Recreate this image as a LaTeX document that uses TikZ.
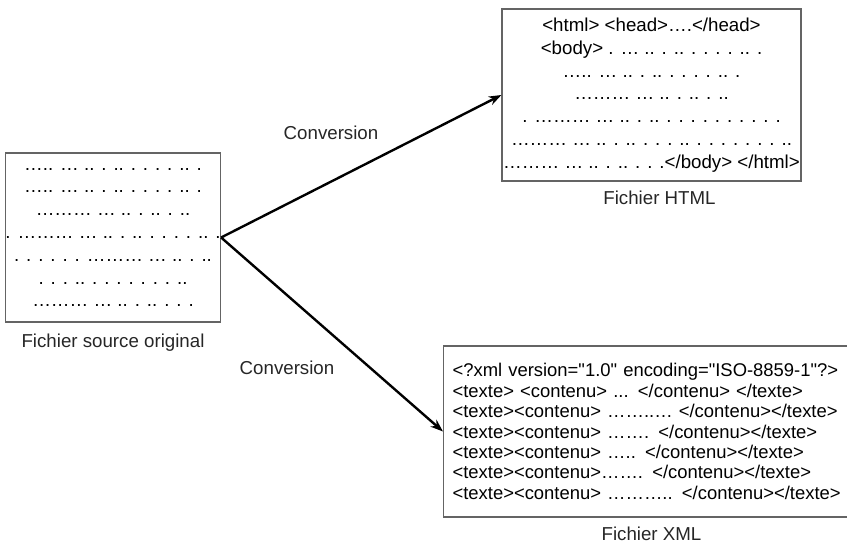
\documentclass[tikz,border=0pt]{standalone}
\usepackage{fontspec}
\setmainfont{Liberation Sans}
\usepackage{tikz}
\usetikzlibrary{arrows.meta,positioning}
\definecolor{boxgray}{RGB}{100,100,100}

\tikzset{
  filebox/.style={draw=boxgray,line width=0.8pt,inner sep=0pt,align=center,
    font=\fontsize{13.3}{16.2}\selectfont},
  caption/.style={font=\fontsize{13.3}{16}\selectfont,text=black!85},
  conv/.style={line width=1.7pt,-{Stealth[length=9pt,width=6.5pt]}}
}
\newcommand{\qq}{\textquotedbl}

\begin{document}
\begin{tikzpicture}[x=0.025cm,y=-0.025cm]
\useasboundingbox(0,0)rectangle(847,547);
%fichiers
\node[filebox,minimum width=5.05cm,minimum height=4.225cm](src)at(113,237.5){%
….. … .. . .. . . . . .. .\\
….. … .. . .. . . . . .. .\\
……… … .. . .. . ..\\
. ……… … .. . .. . . . . .. .\\
. . . . . . ……… … .. . ..\\
. . . .. . . . . . . . ..\\
……… … .. . .. . . .};
\node[filebox,minimum width=7.475cm,minimum height=4.3cm](html)at(651.5,95){%
<html> <head>….</head>\\
<body> . … .. . .. . . . . .. .\\
….. … .. . .. . . . . .. .\\
……… … .. . .. . ..\\
. ……… … .. . .. . . . . . . . . . .\\
……… … .. . .. . . . .. . . . . . . . ..\\
……… … .. . .. . . .</body> </html>};
\node[filebox,align=left,text width=300pt,inner xsep=6.4pt,minimum height=121.6pt,
  anchor=west,font=\fontsize{13.1}{14.5}\selectfont](xml)at(443,431.5){%
<?xml version=\qq1.0\qq{} encoding=\qq ISO-8859-1\qq?>\\
<texte> <contenu> ... </contenu> </texte>\\
<texte><contenu> ……..… </contenu></texte>\\
<texte><contenu> ……. </contenu></texte>\\
<texte><contenu> ….. </contenu></texte>\\
<texte><contenu>……. </contenu></texte>\\
<texte><contenu> ……….. </contenu></texte>};
%noms
\node[caption,below=0.15cm of src](srcname){Fichier source original};
\node[caption,below=0.12cm of html,xshift=0.2cm](htmlname){Fichier HTML};
\node[caption,below=0.12cm of xml,xshift=-0.3cm](xmlname){Fichier XML};
%conversions
\draw[conv](src.east)--(html.west);
\draw[conv](src.east)--(xml.west);
\node[caption](conv1)at(331,133){Conversion};
\node[caption](conv2)at(287,368){Conversion};
\end{tikzpicture}
\end{document}
